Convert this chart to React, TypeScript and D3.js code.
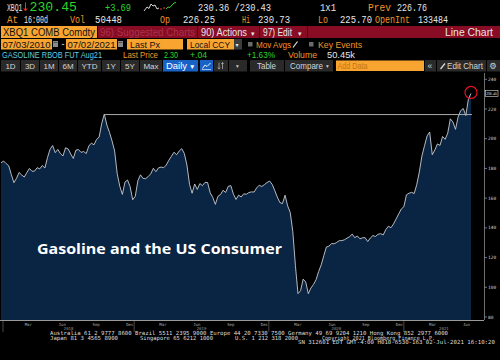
import React from 'react';
import * as d3 from 'd3';

// ---------------- DATA ----------------
const FIRST_WEEK = '2018-01-05';
// weekly closes (Fri) of XBQ1 COMB Comdty
const weeklyClose: number[] = [
  183.8, 185.0, 183.2, 181.8, 175.8, 170.4, 173.3, 177.3, 175.6, 174.2,
  177.2, 180.0, 178.1, 178.2, 180.5, 179.7, 182.0, 180.3, 187.3, 192.9,
  195.4, 190.6, 192.8, 190.0, 188.4, 193.9, 193.1, 189.7, 186.7, 192.3,
  192.7, 190.8, 191.4, 190.0, 195.1, 197.0, 195.9, 199.5, 201.1, 210.2,
  216.6, 209.2, 204.3, 198.5, 191.7, 176.5, 168.0, 162.5, 170.8, 172.2,
  167.7, 158.9, 161.3, 171.7, 175.7, 173.3, 173.1, 174.5, 176.4, 180.1,
  177.8, 180.4, 180.9, 180.5, 182.3, 185.5, 188.2, 190.9, 189.2, 191.7,
  193.3, 190.0, 182.3, 169.3, 163.3, 169.5, 165.9, 169.8, 168.4, 170.6,
  170.5, 163.6, 160.5, 155.8, 161.2, 162.4, 165.3, 163.8, 168.0, 168.4,
  162.7, 159.1, 162.0, 160.8, 162.9, 162.6, 163.8, 164.2, 164.1, 166.9,
  168.7, 167.8, 169.1, 170.5, 171.5, 169.3, 165.2, 160.7, 157.0, 156.3,
  162.0, 154.8, 150.4, 137.4, 114.7, 95.7, 97.7, 105.5, 103.6, 95.7,
  99.5, 101.9, 105.1, 110.6, 115.1, 121.3, 127.1, 127.7, 129.4, 129.3,
  130.2, 131.4, 131.4, 132.0, 133.1, 134.1, 135.8, 133.4, 134.5, 132.6,
  133.3, 133.4, 130.8, 133.1, 134.8, 134.2, 135.7, 136.1, 135.2, 138.8,
  141.1, 140.1, 142.6, 146.0, 149.4, 152.7, 154.2, 162.2, 163.3, 163.9,
  163.1, 169.2, 177.7, 188.4, 195.3, 201.9, 204.5, 189.2, 192.4, 196.5,
  195.5, 201.5, 199.6, 203.8, 213.4, 211.2, 206.3, 214.6, 218.9, 220.3,
  215.6, 226.8, 230.45,
];
const yTicks = [80, 100, 120, 140, 160, 180, 200, 220, 240];
const years = [2018, 2019, 2020, 2021];
const lastPriceLabel = '230.45';
const title = 'Gasoline and the US Consumer';

// ---------------- STYLE ----------------
const ORANGE = '#f3962b';
const BOX = '#f7a431';
const GREEN = '#2bd42b';
const WHITE = '#e6e6e6';
const CYAN = '#5fcbe0';
const DARKRED = '#880c24';
const MONO = '"Liberation Mono", "DejaVu Sans Mono", monospace';
const SANS = '"Liberation Sans", Arial, "DejaVu Sans", sans-serif';
const TINY = '"DejaVu Sans Mono", monospace';

function T(p: any) {
  const { x, y, w, size = 9.5, fill = WHITE, font = SANS, weight, anchor, children, opacity } = p;
  return (
    <text x={x} y={y} fontSize={size} fill={fill} fontFamily={font} fontWeight={weight}
      textAnchor={anchor} opacity={opacity}
      textLength={w} lengthAdjust={w ? 'spacingAndGlyphs' : undefined}>{children}</text>
  );
}

export default function App() {
  const start = d3.timeParse('%Y-%m-%d')(FIRST_WEEK) as Date;
  const dates = weeklyClose.map((_, i) => d3.timeDay.offset(start, 7 * i));
  const last = dates.length - 1;
  const x = d3.scaleTime().domain([dates[0], dates[last]]).range([1, 471]);
  const y = d3.scaleLinear().domain([80, 220]).range([317, 109]);
  const base = y(78);

  const area = d3.area<number>().x((_, i) => x(dates[i])).y0(base).y1(v => y(v));
  const line = d3.line<number>().x((_, i) => x(dates[i])).y(v => y(v));

  // 2018 high reference line
  const idx2018 = dates.map((d, i) => i).filter(i => dates[i].getFullYear() === 2018);
  const peakIdx = idx2018.reduce((a, b) => (weeklyClose[b] > weeklyClose[a] ? b : a), idx2018[0]);
  const peakVal = weeklyClose[peakIdx];

  const months = d3.timeMonths(new Date(2018, 2, 1), new Date(2021, 6, 2), 3);
  const yearX = years.map(yr => Math.max(3, x(new Date(yr, 0, 1))));
  const axisRight = 484;

  const buttons: [number, number, string][] = [
    [1, 20, '1D'], [21, 39, '3D'], [40, 58, '1M'], [59, 77, '6M'], [78, 101, 'YTD'],
    [102, 120, '1Y'], [121, 139, '5Y'], [140, 162, 'Max'],
  ];
  const R1 = 10.8, R2 = 23;
  const S1 = 10.3, S2 = 10;

  return (
    <svg width={500} height={360} style={{ position: 'absolute', left: 0, top: 0, display: 'block' }}>
      <rect x={0} y={0} width={500} height={360} fill="#000" />

      {/* Row 1 */}
      <T x={7} y={R1} w={15.5} size={S1} font={MONO}>XBQ1</T>
      <line x1={25.5} y1={2.5} x2={25.5} y2={10.5} stroke="#ff2a2a" strokeWidth={1} />
      <path d="M23.8,8.2 L25.5,11 L27.2,8.2" fill="none" stroke="#ff2a2a" strokeWidth={0.9} />
      <T x={29.5} y={11.2} w={47.5} size={12.5} fill={GREEN} font={MONO}>230.45</T>
      <T x={105} y={R1} w={26} size={S1} fill={GREEN} font={MONO}>+3.69</T>
      <path d="M144,11 L147,7 L149,8.5 L151,4 L153,6 L155,5 L157,9 L159,8" fill="none" stroke="#eee" strokeWidth={0.9} />
      <path d="M160,9 L162,9 M163,8 L165,8" fill="none" stroke="#ff3030" strokeWidth={1} />
      <path d="M166,9 L168,7 L170,7.5 L172,5 L174,3 L176,2.5" fill="none" stroke={GREEN} strokeWidth={1} />
      <T x={198} y={R1} w={73} size={S1} font={MONO}>230.36 /230.43</T>
      <T x={320} y={R1} w={16} size={S1} font={MONO}>1x1</T>
      <T x={368} y={R1} w={23} size={S1} fill={ORANGE} font={MONO}>Prev</T>
      <T x={397} y={R1} w={30} size={S1} font={MONO}>226.76</T>

      {/* Row 2 */}
      <T x={7} y={R2} w={11} size={S2} fill={ORANGE} font={MONO}>At</T>
      <T x={24} y={R2} w={24} size={S2} font={MONO}>16:00d</T>
      <T x={70} y={R2} w={15} size={S2} fill={ORANGE} font={MONO}>Vol</T>
      <T x={95} y={R2} w={27} size={S2} font={MONO}>50448</T>
      <T x={160} y={R2} w={10} size={S2} fill={ORANGE} font={MONO}>Op</T>
      <T x={183} y={R2} w={32} size={S2} font={MONO}>226.25</T>
      <T x={242} y={R2} w={8} size={S2} fill={ORANGE} font={MONO}>Hi</T>
      <T x={258} y={R2} w={32} size={S2} font={MONO}>230.73</T>
      <T x={318} y={R2} w={10} size={S2} fill={ORANGE} font={MONO}>Lo</T>
      <T x={340} y={R2} w={32} size={S2} font={MONO}>225.70</T>
      <T x={375} y={R2} w={35} size={S2} fill={ORANGE} font={MONO}>OpenInt</T>
      <T x={418} y={R2} w={30} size={S2} font={MONO}>133484</T>

      {/* Row 3 */}
      <rect x={1} y={26} width={96} height={12} fill={BOX} />
      <T x={3} y={35.8} w={92} size={10} fill="#111">XBQ1 COMB Comdty</T>
      <rect x={98} y={26} width={402} height={12} fill={DARKRED} />
      <line x1={197.5} y1={26} x2={197.5} y2={38} stroke="#4e0612" />
      <line x1={259.5} y1={26} x2={259.5} y2={38} stroke="#4e0612" />
      <line x1={307.5} y1={26} x2={307.5} y2={38} stroke="#4e0612" />
      <T x={100} y={35.8} w={95} size={10} fill="#a8324a">96) Suggested Charts</T>
      <T x={201} y={35.8} w={46} size={10}>90) Actions</T>
      <T x={251} y={35.5} size={7}>▾</T>
      <T x={263} y={35.8} w={29} size={10}>97) Edit</T>
      <T x={298} y={35.5} size={7}>▾</T>
      <T x={445} y={35.8} w={48} size={10}>Line Chart</T>

      {/* Row 4 */}
      <rect x={1} y={39} width={51} height={10.5} fill={BOX} />
      <T x={2.5} y={47.5} w={48} size={9.5} fill="#111">07/03/2010</T>
      <rect x={53} y={41} width={5} height={6} fill="#8a8a8a" />
      <line x1={53.5} y1={42.5} x2={57.5} y2={42.5} stroke="#333" strokeWidth={0.6} />
      <T x={61.5} y={47.3} size={9}>-</T>
      <rect x={66} y={39} width={51} height={10.5} fill={BOX} />
      <T x={67.5} y={47.5} w={48} size={9.5} fill="#111">07/02/2021</T>
      <rect x={118} y={41} width={5} height={6} fill="#8a8a8a" />
      <line x1={118.5} y1={42.5} x2={122.5} y2={42.5} stroke="#333" strokeWidth={0.6} />
      <rect x={127} y={39} width={56} height={10.5} fill={BOX} />
      <T x={130} y={47.5} w={30} size={9.5} fill="#111">Last Px</T>
      <rect x={187} y={39} width={47} height={10.5} fill={BOX} />
      <T x={190} y={47.5} w={40} size={9.5} fill="#111">Local CCY</T>
      <rect x={234} y={39} width={8} height={10.5} fill="#3c3c3c" />
      <T x={235.5} y={47} size={6}>▾</T>
      <rect x={248} y={42} width={4.5} height={4.5} fill="#6a6a6a" />
      <T x={256} y={47.5} w={35} size={9.5} fill={ORANGE}>Mov Avgs</T>
      <path d="M293,47.5 L297.5,41.5" stroke="#ddd" strokeWidth={1.2} />
      <rect x={309} y={42} width={4.5} height={4.5} fill="#6a6a6a" />
      <T x={318} y={47.5} w={44} size={9.5} fill={ORANGE}>Key Events</T>

      {/* Row 5 */}
      <T x={2} y={58.2} w={100} size={9} fill={CYAN}>GASOLINE RBOB FUT Aug21</T>
      <T x={123} y={58.2} w={35} size={9} fill={ORANGE}>Last Price</T>
      <T x={164} y={58.2} w={14} size={9} fill={GREEN}>2.30</T>
      <T x={190} y={58.2} w={17} size={9} fill={GREEN}>+.04</T>
      <T x={247} y={58.2} w={28} size={9} fill={GREEN}>+1.63%</T>
      <T x={288} y={58.2} w={29} size={9} fill={ORANGE}>Volume</T>
      <T x={327} y={58.2} w={28} size={9}>50.45k</T>

      {/* Row 6 buttons */}
      {buttons.map(([a, b, label]) => (
        <g key={label}>
          <rect x={a} y={60} width={b - a} height={11.5} fill="#2a2a2a" />
          <T x={(a + b) / 2} y={68.8} size={8} fill="#d4d4d4" anchor="middle">{label}</T>
        </g>
      ))}
      <rect x={163} y={60} width={35} height={11.5} fill="#1862c6" />
      <T x={166} y={68.8} w={21} size={8.5} fill="#fff">Daily</T>
      <T x={189} y={68.5} size={6.5} fill="#fff">▼</T>
      <rect x={200} y={60} width={13} height={11.5} fill="#1862c6" />
      <path d="M202.5,68.5 L205,65 L207,66.5 L210.5,63" fill="none" stroke="#fff" strokeWidth={0.9} />
      <line x1={202} y1={69.5} x2={211} y2={69.5} stroke="#fff" strokeWidth={0.6} />
      <rect x={214} y={60} width={14} height={11.5} fill="#2a2a2a" />
      <path d="M219,62.5 L219,69 M222.5,62.5 L222.5,69 M217.8,67.5 L219,69 L220.2,67.5 M221.3,64 L222.5,62.5 L223.7,64" fill="none" stroke="#bbb" strokeWidth={0.7} />
      <rect x={229} y={60} width={18} height={11.5} fill="#2a2a2a" />
      <T x={236} y={68} size={5.5} fill="#ccc">▾</T>
      <rect x={250} y={60} width={34} height={11.5} fill="#2a2a2a" />
      <T x={257} y={68.8} w={19} size={8.5} fill="#d4d4d4">Table</T>
      <rect x={285} y={60} width={48} height={11.5} fill="#2a2a2a" />
      <T x={290} y={68.8} w={33} size={8.5} fill="#d4d4d4">Compare</T>
      <T x={326} y={68} size={5.5} fill="#ccc">▾</T>
      <rect x={336} y={60.5} width={88} height={10.5} fill={BOX} />
      <T x={337.5} y={68.8} w={30} size={8.5} fill="#c27610">Add Data</T>
      <rect x={425} y={60} width={11} height={11.5} fill="#2a2a2a" />
      <T x={427.5} y={68.8} size={8.5} fill="#d4d4d4">«</T>
      <rect x={437} y={60} width={49} height={11.5} fill="#2a2a2a" />
      <path d="M440.5,69 L445,63.5" stroke="#ddd" strokeWidth={1.2} />
      <T x={447} y={68.8} w={36} size={8.5} fill="#d4d4d4">Edit Chart</T>
      <rect x={487} y={60} width={13} height={11.5} fill="#2a2a2a" />
      <T x={493} y={69} size={8.5} fill="#d4d4d4" anchor="middle" font='"DejaVu Sans", sans-serif'>⚙</T>

      {/* Chart */}
      <path d={area(weeklyClose) || ''} fill="#0a2443" />
      <path d={line(weeklyClose) || ''} fill="none" stroke="#c9ccd0" strokeWidth={0.9} />
      <line x1={x(dates[peakIdx])} y1={y(peakVal) + 0.5} x2={x(dates[last]) + 1} y2={y(peakVal) + 0.5}
        stroke="#a9a9a9" strokeWidth={1} />
      <circle cx={x(dates[last])} cy={y(weeklyClose[last]) - 1} r={6} fill="none" stroke="#e3121e" strokeWidth={1.2} />

      <T x={37} y={254} w={245} size={15} weight="bold" fill="#fff" font='"Open Sans", "DejaVu Sans", sans-serif'>{title}</T>

      {/* Y axis */}
      <line x1={axisRight + 0.5} y1={73} x2={axisRight + 0.5} y2={320} stroke="#8a8a8a" strokeWidth={0.8} />
      {yTicks.filter(t => y(t) > 74).map(t => (
        <g key={t}>
          <line x1={axisRight + 0.5} y1={y(t)} x2={axisRight + 3} y2={y(t)} stroke="#bbb" strokeWidth={0.6} />
          <T x={axisRight + 4} y={y(t) + 1.6} size={4.5} fill="#ccc" font={TINY}>{String(t)}</T>
        </g>
      ))}
      <rect x={485.5} y={y(weeklyClose[last]) - 3} width={12.5} height={6} fill="#000" stroke="#ddd" strokeWidth={0.6} />
      <T x={486.3} y={y(weeklyClose[last]) + 1.5} w={10.5} size={3.6} fill="#eee" font={TINY}>{lastPriceLabel}</T>

      {/* X axis */}
      <line x1={0} y1={320.5} x2={axisRight} y2={320.5} stroke="#9a9a9a" strokeWidth={1.2} />
      {months.map(m => (
        <T key={+m} x={x(m) + 7} y={325.8} size={4} fill="#aaa" anchor="middle" font={TINY}>{d3.timeFormat('%b')(m)}</T>
      ))}
      {years.map((yr, i) => {
        const a = yearX[i];
        const b = i < years.length - 1 ? yearX[i + 1] : axisRight;
        return (
          <g key={yr}>
            <line x1={a} y1={321} x2={a} y2={332} stroke="#5a5a5a" strokeWidth={0.8} />
            <T x={(a + b) / 2} y={330} size={4} fill="#999" anchor="middle" font={TINY}>{String(yr)}</T>
          </g>
        );
      })}

      {/* Footer */}
      <T x={50} y={335} w={398} size={5.6} fill="#ddd" font={TINY}>Australia 61 2 9777 8600 Brazil 5511 2395 9000 Europe 44 20 7330 7500 Germany 49 69 9204 1210 Hong Kong 852 2977 6000</T>
      <T x={50} y={339.5} w={68} size={5.6} fill="#ddd" font={TINY}>Japan 81 3 4565 8900</T>
      <T x={140} y={339.5} w={73} size={5.6} fill="#ddd" font={TINY}>Singapore 65 6212 1000</T>
      <T x={235} y={339.5} w={63} size={5.6} fill="#ddd" font={TINY}>U.S. 1 212 318 2000</T>
      <T x={322} y={339.5} w={113} size={5.6} fill="#ddd" font={TINY}>Copyright 2021 Bloomberg Finance L.P.</T>
      <T x={298} y={344} w={197} size={5.6} fill="#ddd" font={TINY}>SN 312601 EDT  GMT-4:00 H010-6530-163 02-Jul-2021 16:10:20</T>
    </svg>
  );
}
